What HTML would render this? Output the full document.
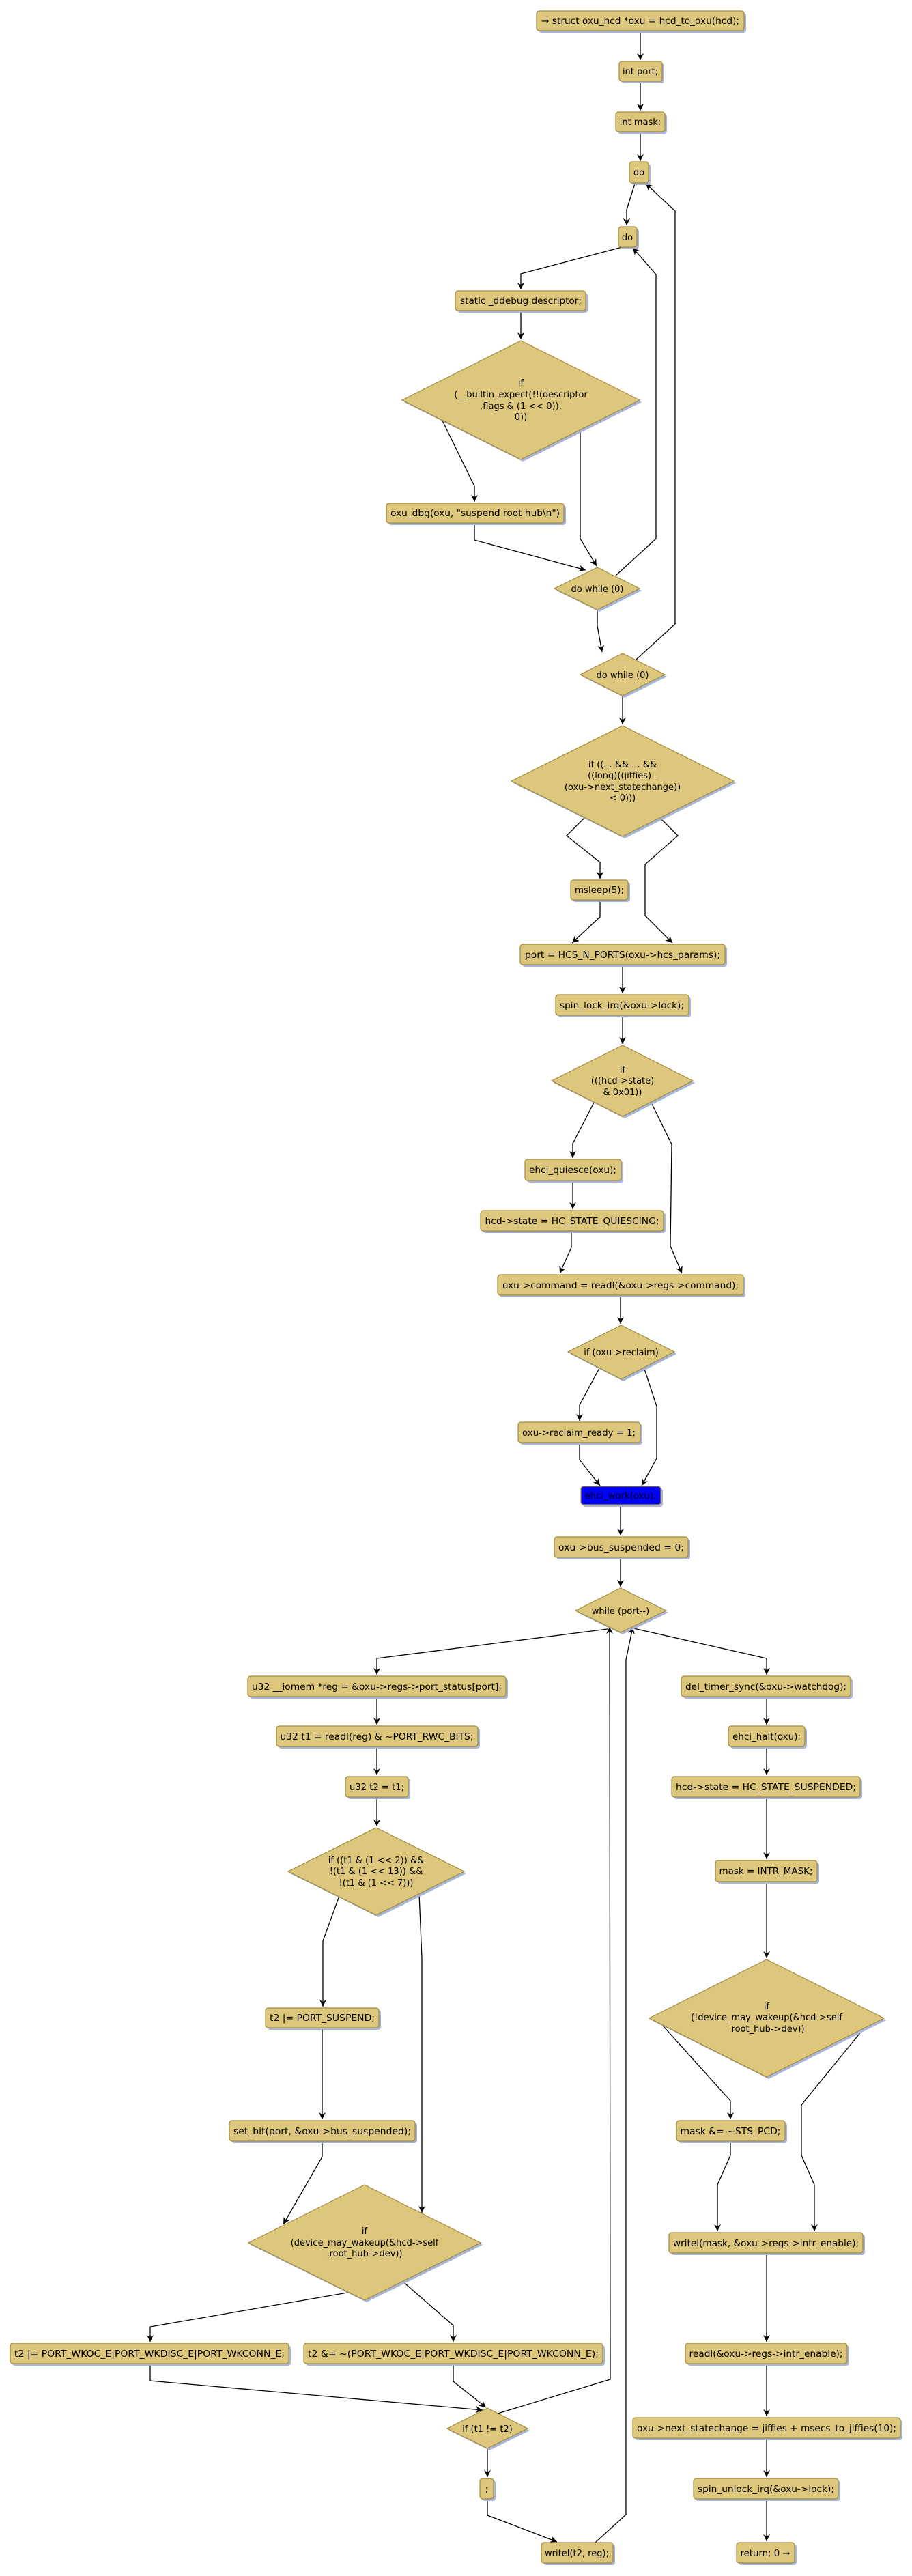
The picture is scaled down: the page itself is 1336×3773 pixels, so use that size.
<!DOCTYPE html>
<html><head><meta charset="utf-8"><style>
html,body{margin:0;padding:0;background:#fff;}
svg{display:block;}
text{font-family:"DejaVu Sans","Liberation Sans",sans-serif;font-size:13px;fill:#000;}
.b{fill:#dcc77c;stroke:#a08a3c;stroke-width:1.2;}
.s{fill:#a8b4d8;}
.e{fill:none;stroke:#000;stroke-width:1.3;marker-end:url(#a);}
.n{fill:none;stroke:#000;stroke-width:1.3;}
</style></head><body>
<svg width="1336" height="3773" viewBox="0 0 1336 3773" xmlns="http://www.w3.org/2000/svg">
<defs><marker id="a" viewBox="0 0 10 10" refX="10" refY="5" markerWidth="10" markerHeight="10" markerUnits="userSpaceOnUse" orient="auto"><path d="M0,0 L10,5 L0,10 L3,5 z" fill="#000"/></marker></defs>

<!-- edges -->
<polyline class="e" points="938,45 938,88"/>
<polyline class="e" points="938,119 938,162"/>
<polyline class="e" points="938,193 938,236"/>
<polyline class="e" points="930,269 918,307 918,330"/>
<polyline class="e" points="911,362 763,401 763,424"/>
<polyline class="e" points="763,455 763,497"/>
<polyline class="e" points="647,614 695,712 695,735"/>
<polyline class="e" points="850,629 850,789 874,829"/>
<polyline class="e" points="695,766 695,791 858,835"/>
<polyline class="e" points="902,843 961,789 961,402 927,363"/>
<polyline class="e" points="932,966 989,914 989,309 946,269"/>
<polyline class="e" points="875,893 875,917 882,955"/>
<polyline class="e" points="912,1019 912,1061"/>
<polyline class="e" points="857,1197 830,1224 879,1263 879,1287"/>
<polyline class="e" points="966,1197 993,1224 945,1266 945,1341 985,1381"/>
<polyline class="e" points="879,1318 879,1343 838,1381"/>
<polyline class="e" points="912,1413 912,1455"/>
<polyline class="e" points="912,1487 912,1529"/>
<polyline class="e" points="870,1615 839,1675 839,1696"/>
<polyline class="e" points="954,1615 984,1676 982,1825 999,1865"/>
<polyline class="e" points="839,1729 839,1771"/>
<polyline class="e" points="837,1803 837,1827 820,1865"/>
<polyline class="e" points="909,1897 909,1939"/>
<polyline class="e" points="878,2004 849,2058 849,2081"/>
<polyline class="e" points="943,2002 962,2060 962,2136 940,2176"/>
<polyline class="e" points="849,2113 849,2138 879,2176"/>
<polyline class="e" points="909,2204 909,2249"/>
<polyline class="e" points="909,2281 909,2324"/>
<polyline class="e" points="890,2386 552,2429 552,2453"/>
<polyline class="e" points="928,2385 1123,2429 1123,2453"/>
<polyline class="e" points="552,2485 552,2526"/>
<polyline class="e" points="552,2558 552,2600"/>
<polyline class="e" points="552,2632 552,2675"/>
<polyline class="e" points="497,2777 473,2843 473,2939"/>
<polyline class="e" points="614,2774 618,2868 618,3241"/>
<polyline class="e" points="472,2970 472,3104"/>
<polyline class="e" points="472,3136 472,3159 415,3258"/>
<polyline class="e" points="509,3358 220,3408 220,3430"/>
<polyline class="e" points="588,3340 664,3406 664,3430"/>
<polyline class="e" points="220,3462 220,3487 707,3530"/>
<polyline class="e" points="664,3462 664,3488 712,3526"/>
<polyline class="e" points="714,3586 714,3628"/>
<polyline class="e" points="714,3660 714,3684 816,3723"/>
<polyline class="e" points="729,3535 894,3485 893,2383"/>
<polyline class="e" points="872,3724 917,3683 917,2431 927,2383"/>
<polyline class="e" points="1123,2485 1123,2526"/>
<polyline class="e" points="1123,2558 1123,2600"/>
<polyline class="e" points="1123,2632 1123,2723"/>
<polyline class="e" points="1123,2756 1123,2868"/>
<polyline class="e" points="971,2967 1070,3077 1070,3104"/>
<polyline class="e" points="1267,2969 1174,3083 1174,3157 1193,3200 1193,3268"/>
<polyline class="e" points="1070,3136 1070,3157 1051,3200 1051,3268"/>
<polyline class="e" points="1123,3300 1123,3430"/>
<polyline class="e" points="1123,3462 1123,3539"/>
<polyline class="e" points="1123,3571 1123,3628"/>
<polyline class="e" points="1123,3660 1123,3722"/>

<!-- boxes: shadow + box + text -->
<g>
<rect class="s" x="789" y="19" width="304" height="29" rx="4"/><rect class="b" x="786" y="16" width="304" height="29" rx="4"/><text x="938" y="35" text-anchor="middle" textLength="290" lengthAdjust="spacingAndGlyphs">→ struct oxu_hcd *oxu = hcd_to_oxu(hcd);</text>
<rect class="s" x="910" y="93" width="63" height="29" rx="4"/><rect class="b" x="907" y="90" width="63" height="29" rx="4"/><text x="938" y="109" text-anchor="middle">int port;</text>
<rect class="s" x="905" y="167" width="72" height="29" rx="4"/><rect class="b" x="902" y="164" width="72" height="29" rx="4"/><text x="938" y="183" text-anchor="middle">int mask;</text>
<rect class="s" x="925" y="240" width="28" height="31" rx="4"/><rect class="b" x="922" y="237" width="28" height="31" rx="4"/><text x="936" y="257" text-anchor="middle">do</text>
<rect class="s" x="909" y="335" width="27" height="30" rx="4"/><rect class="b" x="906" y="332" width="27" height="30" rx="4"/><text x="919" y="352" text-anchor="middle">do</text>
<rect class="s" x="670" y="429" width="191" height="29" rx="4"/><rect class="b" x="667" y="426" width="191" height="29" rx="4"/><text x="763" y="445" text-anchor="middle" textLength="178" lengthAdjust="spacingAndGlyphs">static _ddebug descriptor;</text>
<rect class="s" x="569" y="740" width="260" height="29" rx="4"/><rect class="b" x="566" y="737" width="260" height="29" rx="4"/><text x="696" y="756" text-anchor="middle" textLength="248" lengthAdjust="spacingAndGlyphs">oxu_dbg(oxu, "suspend root hub\n")</text>
<rect class="s" x="839" y="1292" width="84" height="29" rx="4"/><rect class="b" x="836" y="1289" width="84" height="29" rx="4"/><text x="878" y="1308" text-anchor="middle" textLength="72" lengthAdjust="spacingAndGlyphs">msleep(5);</text>
<rect class="s" x="765" y="1386" width="300" height="30" rx="4"/><rect class="b" x="762" y="1383" width="300" height="30" rx="4"/><text x="912" y="1403" text-anchor="middle" textLength="286" lengthAdjust="spacingAndGlyphs">port = HCS_N_PORTS(oxu-&gt;hcs_params);</text>
<rect class="s" x="817" y="1460" width="195" height="30" rx="4"/><rect class="b" x="814" y="1457" width="195" height="30" rx="4"/><text x="911" y="1477" text-anchor="middle" textLength="182" lengthAdjust="spacingAndGlyphs">spin_lock_irq(&amp;oxu-&gt;lock);</text>
<rect class="s" x="772" y="1701" width="141" height="31" rx="4"/><rect class="b" x="769" y="1698" width="141" height="31" rx="4"/><text x="839" y="1718" text-anchor="middle" textLength="128" lengthAdjust="spacingAndGlyphs">ehci_quiesce(oxu);</text>
<rect class="s" x="707" y="1776" width="268" height="30" rx="4"/><rect class="b" x="704" y="1773" width="268" height="30" rx="4"/><text x="838" y="1793" text-anchor="middle" textLength="255" lengthAdjust="spacingAndGlyphs">hcd-&gt;state = HC_STATE_QUIESCING;</text>
<rect class="s" x="732" y="1870" width="360" height="30" rx="4"/><rect class="b" x="729" y="1867" width="360" height="30" rx="4"/><text x="909" y="1887" text-anchor="middle" textLength="346" lengthAdjust="spacingAndGlyphs">oxu-&gt;command = readl(&amp;oxu-&gt;regs-&gt;command);</text>
<rect class="s" x="762" y="2086" width="179" height="30" rx="4"/><rect class="b" x="759" y="2083" width="179" height="30" rx="4"/><text x="848" y="2103" text-anchor="middle" textLength="166" lengthAdjust="spacingAndGlyphs">oxu-&gt;reclaim_ready = 1;</text>
<rect class="s" x="854" y="2180" width="117" height="27" rx="4"/><rect x="851" y="2177" width="117" height="27" rx="4" fill="#0000ff" stroke="#a08a3c" stroke-width="1.2"/><text x="909" y="2195" text-anchor="middle" textLength="105" lengthAdjust="spacingAndGlyphs">ehci_work(oxu);</text>
<rect class="s" x="815" y="2254" width="196" height="30" rx="4"/><rect class="b" x="812" y="2251" width="196" height="30" rx="4"/><text x="910" y="2271" text-anchor="middle" textLength="184" lengthAdjust="spacingAndGlyphs">oxu-&gt;bus_suspended = 0;</text>

<rect class="s" x="366" y="2458" width="378" height="30" rx="4"/><rect class="b" x="363" y="2455" width="378" height="30" rx="4"/><text x="552" y="2475" text-anchor="middle" textLength="366" lengthAdjust="spacingAndGlyphs">u32 __iomem *reg = &amp;oxu-&gt;regs-&gt;port_status[port];</text>
<rect class="s" x="408" y="2531" width="295" height="30" rx="4"/><rect class="b" x="405" y="2528" width="295" height="30" rx="4"/><text x="552" y="2548" text-anchor="middle" textLength="283" lengthAdjust="spacingAndGlyphs">u32 t1 = readl(reg) &amp; ~PORT_RWC_BITS;</text>
<rect class="s" x="509" y="2605" width="92" height="30" rx="4"/><rect class="b" x="506" y="2602" width="92" height="30" rx="4"/><text x="552" y="2622" text-anchor="middle" textLength="80" lengthAdjust="spacingAndGlyphs">u32 t2 = t1;</text>
<rect class="s" x="392" y="2944" width="166" height="29" rx="4"/><rect class="b" x="389" y="2941" width="166" height="29" rx="4"/><text x="472" y="2960" text-anchor="middle" textLength="154" lengthAdjust="spacingAndGlyphs">t2 |= PORT_SUSPEND;</text>
<rect class="s" x="339" y="3109" width="272" height="30" rx="4"/><rect class="b" x="336" y="3106" width="272" height="30" rx="4"/><text x="472" y="3126" text-anchor="middle" textLength="260" lengthAdjust="spacingAndGlyphs">set_bit(port, &amp;oxu-&gt;bus_suspended);</text>
<rect class="s" x="18" y="3435" width="408" height="30" rx="4"/><rect class="b" x="15" y="3432" width="408" height="30" rx="4"/><text x="219" y="3452" text-anchor="middle" textLength="396" lengthAdjust="spacingAndGlyphs">t2 |= PORT_WKOC_E|PORT_WKDISC_E|PORT_WKCONN_E;</text>
<rect class="s" x="448" y="3435" width="438" height="30" rx="4"/><rect class="b" x="445" y="3432" width="438" height="30" rx="4"/><text x="664" y="3452" text-anchor="middle" textLength="426" lengthAdjust="spacingAndGlyphs">t2 &amp;= ~(PORT_WKOC_E|PORT_WKDISC_E|PORT_WKCONN_E);</text>
<rect class="s" x="706" y="3633" width="20" height="30" rx="4"/><rect class="b" x="703" y="3630" width="20" height="30" rx="4"/><text x="713" y="3650" text-anchor="middle">;</text>
<rect class="s" x="796" y="3727" width="105" height="30" rx="4"/><rect class="b" x="793" y="3724" width="105" height="30" rx="4"/><text x="845" y="3744" text-anchor="middle" textLength="94" lengthAdjust="spacingAndGlyphs">writel(t2, reg);</text>

<rect class="s" x="1001" y="2458" width="248" height="30" rx="4"/><rect class="b" x="998" y="2455" width="248" height="30" rx="4"/><text x="1122" y="2475" text-anchor="middle" textLength="236" lengthAdjust="spacingAndGlyphs">del_timer_sync(&amp;oxu-&gt;watchdog);</text>
<rect class="s" x="1070" y="2531" width="112" height="30" rx="4"/><rect class="b" x="1067" y="2528" width="112" height="30" rx="4"/><text x="1123" y="2548" text-anchor="middle" textLength="100" lengthAdjust="spacingAndGlyphs">ehci_halt(oxu);</text>
<rect class="s" x="987" y="2605" width="276" height="30" rx="4"/><rect class="b" x="984" y="2602" width="276" height="30" rx="4"/><text x="1122" y="2622" text-anchor="middle" textLength="264" lengthAdjust="spacingAndGlyphs">hcd-&gt;state = HC_STATE_SUSPENDED;</text>
<rect class="s" x="1051" y="2728" width="149" height="31" rx="4"/><rect class="b" x="1048" y="2725" width="149" height="31" rx="4"/><text x="1122" y="2745" text-anchor="middle" textLength="137" lengthAdjust="spacingAndGlyphs">mask = INTR_MASK;</text>
<rect class="s" x="994" y="3109" width="159" height="30" rx="4"/><rect class="b" x="991" y="3106" width="159" height="30" rx="4"/><text x="1070" y="3126" text-anchor="middle" textLength="147" lengthAdjust="spacingAndGlyphs">mask &amp;= ~STS_PCD;</text>
<rect class="s" x="983" y="3273" width="284" height="30" rx="4"/><rect class="b" x="980" y="3270" width="284" height="30" rx="4"/><text x="1122" y="3290" text-anchor="middle" textLength="272" lengthAdjust="spacingAndGlyphs">writel(mask, &amp;oxu-&gt;regs-&gt;intr_enable);</text>
<rect class="s" x="1007" y="3435" width="237" height="30" rx="4"/><rect class="b" x="1004" y="3432" width="237" height="30" rx="4"/><text x="1122" y="3452" text-anchor="middle" textLength="225" lengthAdjust="spacingAndGlyphs">readl(&amp;oxu-&gt;regs-&gt;intr_enable);</text>
<rect class="s" x="930" y="3544" width="392" height="30" rx="4"/><rect class="b" x="927" y="3541" width="392" height="30" rx="4"/><text x="1123" y="3561" text-anchor="middle" textLength="380" lengthAdjust="spacingAndGlyphs">oxu-&gt;next_statechange = jiffies + msecs_to_jiffies(10);</text>
<rect class="s" x="1019" y="3633" width="212" height="30" rx="4"/><rect class="b" x="1016" y="3630" width="212" height="30" rx="4"/><text x="1122" y="3650" text-anchor="middle" textLength="200" lengthAdjust="spacingAndGlyphs">spin_unlock_irq(&amp;oxu-&gt;lock);</text>
<rect class="s" x="1082" y="3727" width="85" height="30" rx="4"/><rect class="b" x="1079" y="3724" width="85" height="30" rx="4"/><text x="1121" y="3744" text-anchor="middle" textLength="73" lengthAdjust="spacingAndGlyphs">return; 0 →</text>
</g>

<!-- diamonds -->
<g>
<polygon class="s" points="766,502 940,589 766,676 592,589"/><polygon class="b" points="763,499 937,586 763,673 589,586"/>
<text text-anchor="middle"><tspan x="763" y="565">if</tspan><tspan x="763" y="582">(__builtin_expect(!!(descriptor</tspan><tspan x="763" y="599">.flags &amp; (1 &lt;&lt; 0)),</tspan><tspan x="763" y="615">0))</tspan></text>

<polygon class="s" points="878,834 940,865 878,896 815,865"/><polygon class="b" points="875,831 937,862 875,893 812,862"/>
<text x="875" y="867" text-anchor="middle">do while (0)</text>

<polygon class="s" points="915,960 977,991 915,1022 853,991"/><polygon class="b" points="912,957 974,988 912,1019 850,988"/>
<text x="912" y="993" text-anchor="middle">do while (0)</text>

<polygon class="s" points="915,1066 1078,1147 915,1228 752,1147"/><polygon class="b" points="912,1063 1075,1144 912,1225 749,1144"/>
<text text-anchor="middle"><tspan x="912" y="1124">if ((... &amp;&amp; ... &amp;&amp;</tspan><tspan x="912" y="1140">((long)((jiffies) -</tspan><tspan x="912" y="1157">(oxu-&gt;next_statechange))</tspan><tspan x="912" y="1173">&lt; 0)))</tspan></text>

<polygon class="s" points="915,1534 1018,1586 915,1638 811,1586"/><polygon class="b" points="912,1531 1015,1583 912,1635 808,1583"/>
<text text-anchor="middle"><tspan x="912" y="1571">if</tspan><tspan x="912" y="1587">(((hcd-&gt;state)</tspan><tspan x="912" y="1604">&amp; 0x01))</tspan></text>

<polygon class="s" points="913,1944 991,1983 913,2023 835,1983"/><polygon class="b" points="910,1941 988,1980 910,2020 832,1980"/>
<text x="910" y="1985" text-anchor="middle">if (oxu-&gt;reclaim)</text>

<polygon class="s" points="912,2329 979,2362 912,2394 846,2362"/><polygon class="b" points="909,2326 976,2359 909,2391 843,2359"/>
<text x="909" y="2364" text-anchor="middle">while (port--)</text>

<polygon class="s" points="554,2680 683,2744 554,2808 425,2744"/><polygon class="b" points="551,2677 680,2741 551,2805 422,2741"/>
<text text-anchor="middle"><tspan x="551" y="2729">if ((t1 &amp; (1 &lt;&lt; 2)) &amp;&amp;</tspan><tspan x="551" y="2745">!(t1 &amp; (1 &lt;&lt; 13)) &amp;&amp;</tspan><tspan x="551" y="2762">!(t1 &amp; (1 &lt;&lt; 7)))</tspan></text>

<polygon class="s" points="537,3203 707,3288 537,3372 367,3288"/><polygon class="b" points="534,3200 704,3285 534,3369 364,3285"/>
<text text-anchor="middle"><tspan x="534" y="3272">if</tspan><tspan x="534" y="3289">(device_may_wakeup(&amp;hcd-&gt;self</tspan><tspan x="534" y="3305">.root_hub-&gt;dev))</tspan></text>

<polygon class="s" points="1126,2873 1298,2959 1126,3045 954,2959"/><polygon class="b" points="1123,2870 1295,2956 1123,3042 951,2956"/>
<text text-anchor="middle"><tspan x="1123" y="2943">if</tspan><tspan x="1123" y="2959">(!device_may_wakeup(&amp;hcd-&gt;self</tspan><tspan x="1123" y="2976">.root_hub-&gt;dev))</tspan></text>

<polygon class="s" points="717,3530 776,3560 717,3589 658,3560"/><polygon class="b" points="714,3527 773,3557 714,3586 655,3557"/>
<text x="714" y="3562" text-anchor="middle">if (t1 != t2)</text>
</g>
</svg>
</body></html>
